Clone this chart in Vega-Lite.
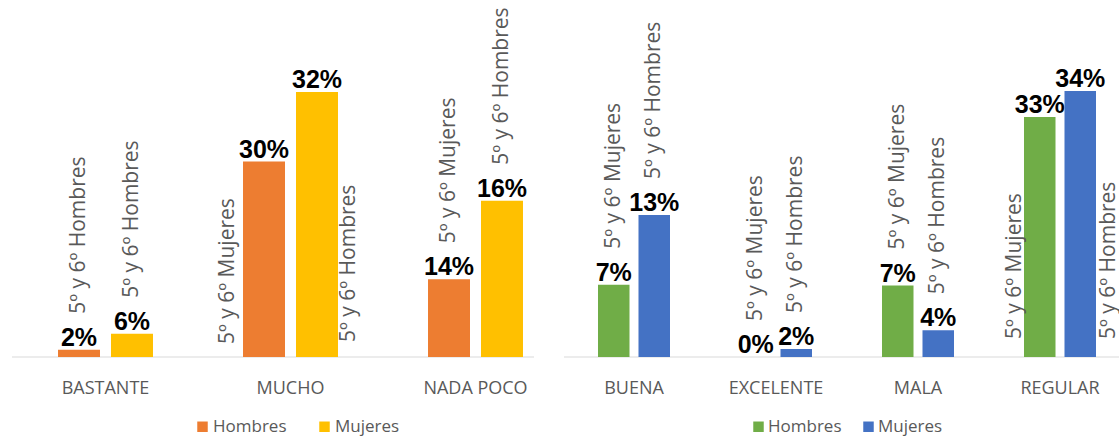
{
  "$schema": "https://vega.github.io/schema/vega-lite/v6.json",
  "padding": {"left": 11, "top": 0, "right": 0, "bottom": 3},
  "bounds": "flush",
  "spacing": 30,
  "background": "white",
  "config": {"view": {"stroke": null}},
  "datasets": {
    "izquierda": [
      {"categoria": "BASTANTE", "serie": "Hombres", "valor": 0.8, "pct": 0.02, "rotulo": "5º y 6º Hombres"},
      {"categoria": "BASTANTE", "serie": "Mujeres", "valor": 2.6, "pct": 0.06, "rotulo": "5º y 6º Hombres"},
      {"categoria": "MUCHO", "serie": "Hombres", "valor": 21.9, "pct": 0.30, "rotulo": "5º y 6º Mujeres"},
      {"categoria": "MUCHO", "serie": "Mujeres", "valor": 29.7, "pct": 0.32, "rotulo": "5º y 6º Hombres"},
      {"categoria": "NADA POCO", "serie": "Hombres", "valor": 8.7, "pct": 0.14, "rotulo": "5º y 6º Mujeres"},
      {"categoria": "NADA POCO", "serie": "Mujeres", "valor": 17.5, "pct": 0.16, "rotulo": "5º y 6º Hombres"}
    ],
    "derecha": [
      {"categoria": "BUENA", "serie": "Hombres", "valor": 8.1, "pct": 0.07, "rotulo": "5º y 6º Mujeres"},
      {"categoria": "BUENA", "serie": "Mujeres", "valor": 15.9, "pct": 0.13, "rotulo": "5º y 6º Hombres"},
      {"categoria": "EXCELENTE", "serie": "Hombres", "valor": 0, "pct": 0, "rotulo": "5º y 6º Mujeres"},
      {"categoria": "EXCELENTE", "serie": "Mujeres", "valor": 0.9, "pct": 0.02, "rotulo": "5º y 6º Hombres"},
      {"categoria": "MALA", "serie": "Hombres", "valor": 8.0, "pct": 0.07, "rotulo": "5º y 6º Mujeres"},
      {"categoria": "MALA", "serie": "Mujeres", "valor": 3.0, "pct": 0.04, "rotulo": "5º y 6º Hombres"},
      {"categoria": "REGULAR", "serie": "Hombres", "valor": 26.9, "pct": 0.33, "rotulo": "5º y 6º Mujeres"},
      {"categoria": "REGULAR", "serie": "Mujeres", "valor": 29.8, "pct": 0.34, "rotulo": "5º y 6º Hombres"}
    ]
  },
  "hconcat": [
    {
      "width": 522,
      "height": 357,
      "data": {"name": "izquierda"},
      "layer": [
        {
          "data": {"values": [{}]},
          "mark": {"type": "rule", "color": "#D9D9D9", "strokeWidth": 1},
          "encoding": {"y": {"datum": 0, "type": "quantitative", "axis": null}}
        },
        {
          "mark": {"type": "bar"},
          "encoding": {
            "x": {"field": "categoria", "type": "nominal",
                  "scale": {"range": [1, 556], "paddingInner": 0.427, "paddingOuter": 0.2135},
                  "axis": {"title": null, "domain": false, "ticks": false, "labelAngle": 0, "labelFont": "Open Sans", "labelFontSize": 18, "labelColor": "#595959", "labelPadding": 22}},
            "xOffset": {"field": "serie", "type": "nominal", "scale": {"paddingInner": 0.2075, "paddingOuter": 0.104}},
            "y": {"field": "valor", "type": "quantitative", "scale": {"domain": [0, 40]}, "axis": null},
            "color": {"field": "serie", "type": "nominal",
                      "scale": {"domain": ["Hombres", "Mujeres"], "range": ["#ED7D31", "#FFC000"]},
                      "legend": {"orient": "none", "legendX": 182, "legendY": 418, "direction": "horizontal", "title": null, "labelFont": "Open Sans", "labelFontSize": 17, "labelColor": "#595959", "symbolType": "square", "symbolSize": 110, "symbolStrokeWidth": 0, "columnPadding": 29, "labelOffset": 2, "padding": 0}}
          }
        },
        {
          "mark": {"type": "text", "font": "Liberation Sans", "fontWeight": "bold", "fontSize": 25, "color": "black", "baseline": "alphabetic", "dy": -4},
          "encoding": {
            "x": {"field": "categoria", "type": "nominal"},
            "xOffset": {"field": "serie", "type": "nominal"},
            "y": {"field": "valor", "type": "quantitative", "axis": null},
            "text": {"field": "pct", "type": "quantitative", "format": ".0%"}
          }
        },
        {
          "transform": [{"filter": "datum.valor < 20"}],
          "mark": {"type": "text", "font": "Open Sans", "fontSize": 21, "color": "#595959", "angle": 270, "align": "left", "baseline": "middle", "dx": 36},
          "encoding": {
            "x": {"field": "categoria", "type": "nominal"},
            "xOffset": {"field": "serie", "type": "nominal"},
            "y": {"field": "valor", "type": "quantitative", "axis": null},
            "text": {"field": "rotulo", "type": "nominal"}
          }
        },
        {
          "transform": [{"filter": "datum.valor >= 20 && datum.serie == 'Hombres'"}],
          "mark": {"type": "text", "font": "Open Sans", "fontSize": 21, "color": "#595959", "angle": 270, "align": "left", "baseline": "middle", "dx": 13, "dy": -36},
          "encoding": {
            "x": {"field": "categoria", "type": "nominal"},
            "xOffset": {"field": "serie", "type": "nominal"},
            "y": {"datum": 0, "type": "quantitative", "axis": null},
            "text": {"field": "rotulo", "type": "nominal"}
          }
        },
        {
          "transform": [{"filter": "datum.valor >= 20 && datum.serie == 'Mujeres'"}],
          "mark": {"type": "text", "font": "Open Sans", "fontSize": 21, "color": "#595959", "angle": 270, "align": "left", "baseline": "middle", "dx": 15, "dy": 32},
          "encoding": {
            "x": {"field": "categoria", "type": "nominal"},
            "xOffset": {"field": "serie", "type": "nominal"},
            "y": {"datum": 0, "type": "quantitative", "axis": null},
            "text": {"field": "rotulo", "type": "nominal"}
          }
        }
      ]
    },
    {
      "width": 556,
      "height": 357,
      "data": {"name": "derecha"},
      "layer": [
        {
          "data": {"values": [{}]},
          "mark": {"type": "rule", "color": "#D9D9D9", "strokeWidth": 1},
          "encoding": {"y": {"datum": 0, "type": "quantitative", "axis": null}}
        },
        {
          "mark": {"type": "bar"},
          "encoding": {
            "x": {"field": "categoria", "type": "nominal",
                  "scale": {"range": [-1, 567], "paddingInner": 0.4296, "paddingOuter": 0.2148},
                  "axis": {"title": null, "domain": false, "ticks": false, "labelAngle": 0, "labelFont": "Open Sans", "labelFontSize": 18, "labelColor": "#595959", "labelPadding": 22}},
            "xOffset": {"field": "serie", "type": "nominal", "scale": {"paddingInner": 0.222, "paddingOuter": 0.111}},
            "y": {"field": "valor", "type": "quantitative", "scale": {"domain": [0, 40]}, "axis": null},
            "color": {"field": "serie", "type": "nominal",
                      "scale": {"domain": ["Hombres", "Mujeres"], "range": ["#70AD47", "#4472C4"]},
                      "legend": {"orient": "none", "legendX": 186, "legendY": 418, "direction": "horizontal", "title": null, "labelFont": "Open Sans", "labelFontSize": 17, "labelColor": "#595959", "symbolType": "square", "symbolSize": 110, "symbolStrokeWidth": 0, "columnPadding": 18, "labelOffset": 1, "padding": 0}}
          }
        },
        {
          "mark": {"type": "text", "font": "Liberation Sans", "fontWeight": "bold", "fontSize": 25, "color": "black", "baseline": "alphabetic", "dy": -4},
          "encoding": {
            "x": {"field": "categoria", "type": "nominal"},
            "xOffset": {"field": "serie", "type": "nominal"},
            "y": {"field": "valor", "type": "quantitative", "axis": null},
            "text": {"field": "pct", "type": "quantitative", "format": ".0%"}
          }
        },
        {
          "transform": [{"filter": "datum.valor < 20"}],
          "mark": {"type": "text", "font": "Open Sans", "fontSize": 21, "color": "#595959", "angle": 270, "align": "left", "baseline": "middle", "dx": 36},
          "encoding": {
            "x": {"field": "categoria", "type": "nominal"},
            "xOffset": {"field": "serie", "type": "nominal"},
            "y": {"field": "valor", "type": "quantitative", "axis": null},
            "text": {"field": "rotulo", "type": "nominal"}
          }
        },
        {
          "transform": [{"filter": "datum.valor >= 20 && datum.serie == 'Hombres'"}],
          "mark": {"type": "text", "font": "Open Sans", "fontSize": 21, "color": "#595959", "angle": 270, "align": "left", "baseline": "middle", "dx": 18, "dy": -25},
          "encoding": {
            "x": {"field": "categoria", "type": "nominal"},
            "xOffset": {"field": "serie", "type": "nominal"},
            "y": {"datum": 0, "type": "quantitative", "axis": null},
            "text": {"field": "rotulo", "type": "nominal"}
          }
        },
        {
          "transform": [{"filter": "datum.valor >= 20 && datum.serie == 'Mujeres'"}],
          "mark": {"type": "text", "font": "Open Sans", "fontSize": 21, "color": "#595959", "angle": 270, "align": "left", "baseline": "middle", "dx": 18, "dy": 29},
          "encoding": {
            "x": {"field": "categoria", "type": "nominal"},
            "xOffset": {"field": "serie", "type": "nominal"},
            "y": {"datum": 0, "type": "quantitative", "axis": null},
            "text": {"field": "rotulo", "type": "nominal"}
          }
        }
      ]
    }
  ],
  "resolve": {
    "scale": {"x": "independent", "xOffset": "independent", "y": "independent", "color": "independent"},
    "legend": {"color": "independent"}
  }
}
